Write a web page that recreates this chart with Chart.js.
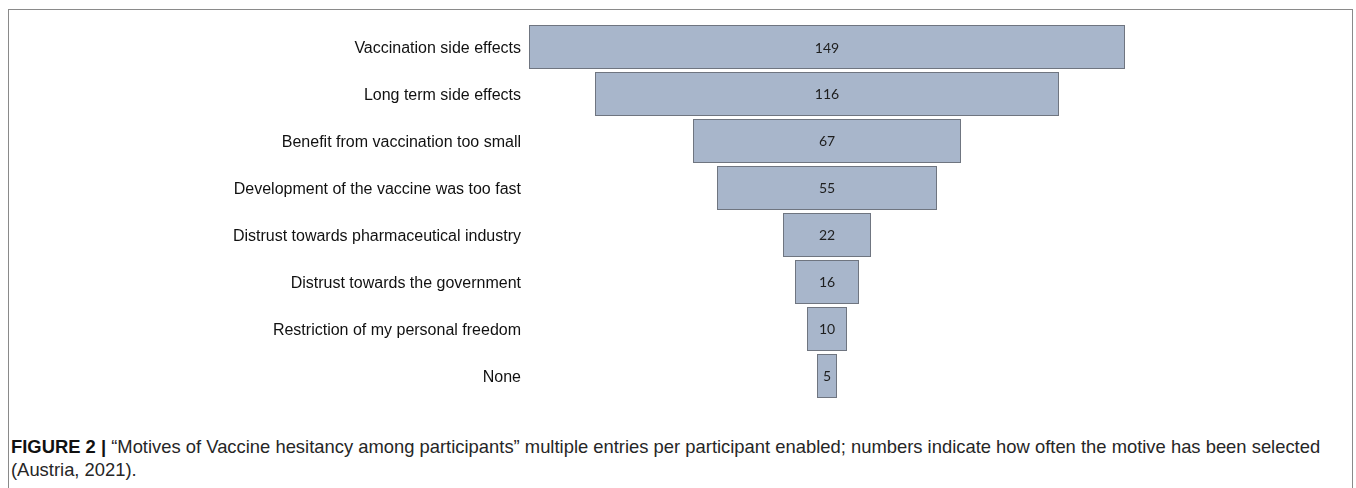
<!DOCTYPE html>
<html>
<head>
<meta charset="utf-8">
<script src="https://cdn.jsdelivr.net/npm/chart.js@4"></script>
<style>
  html, body { margin: 0; padding: 0; background: #fff; }
  body { width: 1356px; height: 488px; position: relative; overflow: hidden; }
  .frame { position: absolute; left: 8px; top: 9px; width: 1345px; height: 520px; border: 1px solid #8a8a8a; box-sizing: border-box; }
  .chart { position: absolute; left: 0; top: 0; width: 1356px; height: 415px; }
  .caption { position: absolute; left: 11px; top: 435px; width: 1335px;
    font-family: "Liberation Sans", Arial, sans-serif; font-size: 18.4px; line-height: 23px; color: #262626; }
  .caption b { color: #111; }
</style>
</head>
<body>
<div class="frame"></div>
<div class="chart"><canvas id="funnel"></canvas></div>
<div class="caption" id="caption"><b>FIGURE 2 |</b> “Motives of Vaccine hesitancy among participants” multiple entries per participant enabled; numbers indicate how often the motive has been selected (Austria, 2021).</div>
<script>
var motives = [
    'Vaccination side effects',
    'Long term side effects',
    'Benefit from vaccination too small',
    'Development of the vaccine was too fast',
    'Distrust towards pharmaceutical industry',
    'Distrust towards the government',
    'Restriction of my personal freedom',
    'None'
];
var counts = [149, 116, 67, 55, 22, 16, 10, 5];

// funnel: each bar floats symmetric around zero
var spans = counts.map(v => [-v / 2, v / 2]);

var valueLabels = {
    id: 'valueLabels',
    afterDatasetsDraw(chart) {
        var ctx = chart.ctx;
        var meta = chart.getDatasetMeta(0);
        ctx.save();
        ctx.font = '14px Lato, "Open Sans", sans-serif';
        ctx.fillStyle = '#1e1e1e';
        ctx.textAlign = 'center';
        ctx.textBaseline = 'middle';
        meta.data.forEach((bar, i) => {
            var x = chart.scales.x.getPixelForValue(0);
            ctx.fillText(String(counts[i]), x, bar.y + 1);
        });
        ctx.restore();
    }
};

new Chart('funnel', {
    type: 'bar',
    data: {
        labels: motives,
        datasets: [{
            data: spans,
            backgroundColor: '#a8b6cb',
            borderColor: '#6f7580',
            borderWidth: 1,
            borderSkipped: false,
            categoryPercentage: 1,
            barPercentage: 0.936
        }]
    },
    options: {
        indexAxis: 'y',
        responsive: true,
        maintainAspectRatio: false,
        animation: false,
        layout: { padding: { left: 0, right: 229, top: 23.5, bottom: 4.5 } },
        plugins: { legend: { display: false }, tooltip: { enabled: false } },
        scales: {
            x: { min: -75, max: 75, display: false },
            y: {
                grid: { display: false, drawTicks: false },
                border: { display: false },
                afterFit(scale) { scale.width = 527; },
                ticks: {
                    padding: 6,
                    labelOffset: 2,
                    color: '#111',
                    font: { family: '"Liberation Sans", Arial, sans-serif', size: 16 }
                }
            }
        }
    },
    plugins: [valueLabels]
});
</script>
</body>
</html>
